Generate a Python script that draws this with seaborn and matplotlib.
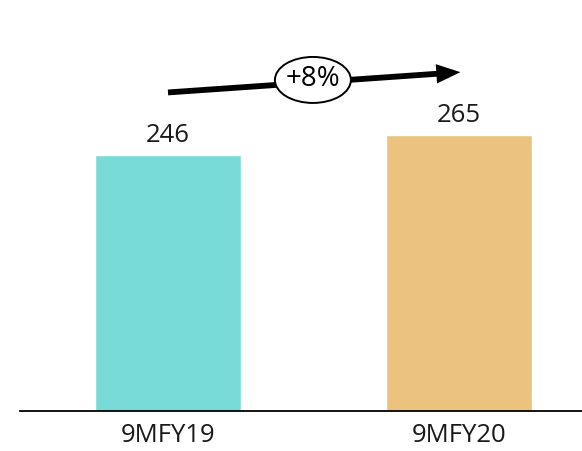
import matplotlib
matplotlib.use("Agg")
import matplotlib.pyplot as plt
from matplotlib.patches import Ellipse
import seaborn as sns
import pandas as pd

periods = ["9MFY19", "9MFY20"]
values = [246, 265]
growth_label = "+8%"
bar_colors = ["#78DBD7", "#EBC37F"]

sns.set_theme(style="white")
plt.rcParams["font.family"] = ["Open Sans", "DejaVu Sans"]

df = pd.DataFrame({"period": periods, "value": values})

fig = plt.figure(figsize=(5.82, 4.51), dpi=100)
ax = fig.add_axes([20 / 582, 40 / 451, 562 / 582, 411 / 451])

sns.barplot(data=df, x="period", y="value", hue="period", palette=bar_colors,
            width=0.5, legend=False, saturation=1, ax=ax)

ax.set_xlim(-0.5086, 1.4227)
ax.set_ylim(0, 394.8)

for i, v in enumerate(values):
    ax.text(i, v + 7, f"{v}", ha="center", va="bottom", fontsize=18.5,
            color="#1a1a1a")

# growth arrow with the oval badge
ax.annotate("", xy=(1.005, 325.5), xytext=(0, 306),
            arrowprops=dict(arrowstyle="-|>,head_length=0.8,head_width=0.32",
                            lw=4.2, color="black", shrinkA=0, shrinkB=0,
                            joinstyle="miter", capstyle="butt"))
ell = Ellipse((0.498, 318), width=76 / 291, height=46 / 1.041,
              facecolor="white", edgecolor="black", lw=1.4, zorder=5)
ax.add_patch(ell)
ax.text(0.498, 318.5, growth_label, ha="center", va="center", fontsize=20,
        color="black", zorder=6)

for s in ["top", "right", "left"]:
    ax.spines[s].set_visible(False)
ax.spines["bottom"].set_color("black")
ax.spines["bottom"].set_linewidth(1.3)
ax.set_yticks([])
ax.set_xlabel("")
ax.set_ylabel("")
ax.tick_params(axis="x", length=0, pad=9, labelsize=18.5, labelcolor="#1a1a1a")

fig.savefig("out.png", dpi=100)
